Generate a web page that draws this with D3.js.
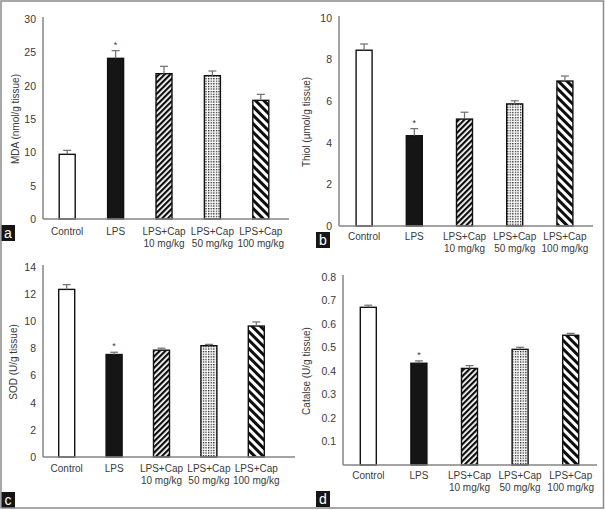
<!DOCTYPE html>
<html><head><meta charset="utf-8">
<script src="https://cdn.jsdelivr.net/npm/d3@7"></script>
<style>
html,body{margin:0;padding:0;background:#fff;}
svg{display:block;font-family:"Liberation Sans",Arial,sans-serif;}
</style></head>
<body>
<svg id="chart" width="605" height="510"></svg>
<script>
// ---- data ----
const categories = ["Control", "LPS", "LPS+Cap 10 mg/kg", "LPS+Cap 50 mg/kg", "LPS+Cap 100 mg/kg"];
const labelLine1 = ["Control", "LPS", "LPS+Cap", "LPS+Cap", "LPS+Cap"];
const labelLine2 = ["", "", "10 mg/kg", "50 mg/kg", "100 mg/kg"];
const significance = ["", "*", "", "", ""];

const mdaValues = [9.7, 24.1, 21.8, 21.5, 17.8];
const mdaErrors = [0.6, 1.15, 1.1, 0.7, 0.9];
const mdaTicks = [0, 5, 10, 15, 20, 25, 30];

const thiolValues = [8.45, 4.34, 5.14, 5.87, 6.97];
const thiolErrors = [0.3, 0.34, 0.33, 0.15, 0.24];
const thiolTicks = [0, 2, 4, 6, 8, 10];

const sodValues = [12.35, 7.55, 7.87, 8.2, 9.65];
const sodErrors = [0.35, 0.17, 0.15, 0.1, 0.3];
const sodTicks = [0, 2, 4, 6, 8, 10, 12, 14];

const catalaseValues = [0.671, 0.433, 0.411, 0.492, 0.552];
const catalaseErrors = [0.009, 0.01, 0.012, 0.009, 0.008];
const catalaseTicks = [0.1, 0.2, 0.3, 0.4, 0.5, 0.6, 0.7, 0.8];

const panelLetters = ["a", "b", "c", "d"];
const yTitles = ["MDA (nmol/g tissue)", "Thiol (µmol/g tissue)", "SOD (U/g tissue)", "Catalse (U/g tissue)"];

// ---- drawing ----
const svg = d3.select("#chart");
const defs = svg.append("defs");

// fine "/" stripes
const p1 = defs.append("pattern").attr("id", "stripeFine").attr("patternUnits", "userSpaceOnUse")
  .attr("width", 4).attr("height", 4).attr("patternTransform", "rotate(45)");
p1.append("rect").attr("width", 4).attr("height", 4).attr("fill", "#fff");
p1.append("rect").attr("width", 2.2).attr("height", 4).attr("fill", "#0d0d0d");

// dots
const p2 = defs.append("pattern").attr("id", "dots").attr("patternUnits", "userSpaceOnUse")
  .attr("width", 2.6).attr("height", 2.6);
p2.append("rect").attr("width", 2.6).attr("height", 2.6).attr("fill", "#fff");
p2.append("rect").attr("width", 1.3).attr("height", 1.3).attr("fill", "#1a1a1a");

// wide "\" stripes
const p3 = defs.append("pattern").attr("id", "stripeWide").attr("patternUnits", "userSpaceOnUse")
  .attr("width", 6).attr("height", 6).attr("patternTransform", "rotate(-45)");
p3.append("rect").attr("width", 6).attr("height", 6).attr("fill", "#fff");
p3.append("rect").attr("width", 3).attr("height", 6).attr("fill", "#0d0d0d");

const fills = ["#fff", "#151515", "url(#stripeFine)", "url(#dots)", "url(#stripeWide)"];

const panels = [
  {values: mdaValues, errors: mdaErrors, ticks: mdaTicks, max: 30, x0: 43, x1: 285, axisEnd: 289, y0: 219, yTop: 19, yTitleX: 15, labelY: 235, box: [1, 225]},
  {values: thiolValues, errors: thiolErrors, ticks: thiolTicks, max: 10, x0: 339, x1: 590, axisEnd: 593, y0: 226, yTop: 18, yTitleX: 306, labelY: 240, box: [316, 232]},
  {values: sodValues, errors: sodErrors, ticks: sodTicks, max: 14, x0: 43, x1: 280, axisEnd: 295, y0: 457, yTop: 267, yTitleX: 13, labelY: 472, box: [1, 492]},
  {values: catalaseValues, errors: catalaseErrors, ticks: catalaseTicks, max: 0.8, x0: 343, x1: 596, axisEnd: 597, y0: 465, yTop: 277, yTitleX: 306, labelY: 479, box: [316, 491]}
];

const axisColor = "#858585";
const textColor = "#3a3a3a";
const fs = 10;

panels.forEach((p, pi) => {
  const g = svg.append("g");
  const x = d3.scaleBand().domain(categories).range([p.x0, p.x1]).paddingInner(0).paddingOuter(0);
  const y = d3.scaleLinear().domain([0, p.max]).range([p.y0, p.yTop]);
  const barW = 16;

  // y axis
  const yAxis = d3.axisLeft(y).tickValues(p.ticks).tickSize(0).tickPadding(7).tickSizeOuter(0)
    .tickFormat(d => d3.format("")(+d.toFixed(2)));
  const ya = g.append("g").attr("transform", `translate(${p.x0},0)`).call(yAxis);
  ya.select(".domain").attr("stroke", axisColor).attr("stroke-width", 1.5)
    .attr("d", `M0,${p.y0}V${p.yTop - 2}`);
  ya.selectAll("text").attr("fill", textColor).attr("font-size", 10.5)
    .attr("font-family", "Liberation Sans, Arial, sans-serif");

  // bars
  g.selectAll("rect.bar").data(p.values).join("rect").attr("class", "bar")
    .attr("x", (d, i) => x(categories[i]) + x.bandwidth() / 2 - barW / 2)
    .attr("y", d => y(d))
    .attr("width", barW)
    .attr("height", d => y(0) - y(d))
    .attr("fill", (d, i) => fills[i])
    .attr("stroke", "#111").attr("stroke-width", 1.4);

  // error bars (upper half)
  p.values.forEach((v, i) => {
    const cx = x(categories[i]) + x.bandwidth() / 2;
    const top = y(v + p.errors[i]);
    g.append("line").attr("x1", cx).attr("x2", cx).attr("y1", y(v)).attr("y2", top)
      .attr("stroke", "#6f6f6f").attr("stroke-width", 1.2);
    g.append("line").attr("x1", cx - 4).attr("x2", cx + 4).attr("y1", top).attr("y2", top)
      .attr("stroke", "#6f6f6f").attr("stroke-width", 1.2);
    if (significance[i]) {
      g.append("text").attr("x", cx).attr("y", top - 3).attr("text-anchor", "middle")
        .attr("font-size", 9).attr("fill", textColor).text(significance[i]);
    }
  });

  // x axis line
  g.append("line").attr("x1", p.x0).attr("x2", p.axisEnd).attr("y1", p.y0).attr("y2", p.y0)
    .attr("stroke", axisColor).attr("stroke-width", 1.5);

  // x labels
  const xAxis = d3.axisBottom(x).tickSize(0).tickFormat("");
  const xa = g.append("g").attr("transform", `translate(0,${p.y0})`).call(xAxis);
  xa.select(".domain").remove();
  xa.selectAll(".tick").each(function (d, i) {
    const t = d3.select(this).append("text").attr("fill", textColor).attr("font-size", fs)
      .attr("text-anchor", "middle").attr("y", p.labelY - p.y0);
    t.append("tspan").attr("x", 0).text(labelLine1[i]);
    if (labelLine2[i]) t.append("tspan").attr("x", 0).attr("dy", 11.5).text(labelLine2[i]);
  });

  // y title
  g.append("text").attr("transform", `translate(${p.yTitleX},${(p.y0 + p.yTop) / 2}) rotate(-90)`)
    .attr("text-anchor", "middle").attr("dy", "0.35em").attr("font-size", fs).attr("fill", textColor)
    .text(yTitles[pi]);

  // panel letter box
  g.append("rect").attr("x", p.box[0]).attr("y", p.box[1]).attr("width", 14).attr("height", 16).attr("fill", "#151515");
  g.append("text").attr("x", p.box[0] + 7).attr("y", p.box[1] + 12.5).attr("text-anchor", "middle")
    .attr("font-size", 14).attr("fill", "#fff").text(panelLetters[pi]);
});

// outer frame
svg.append("rect").attr("x", 1).attr("y", 1).attr("width", 602.5).attr("height", 507)
  .attr("fill", "none").attr("stroke", "#8a8a8a").attr("stroke-width", 1.5);
</script>
</body></html>
